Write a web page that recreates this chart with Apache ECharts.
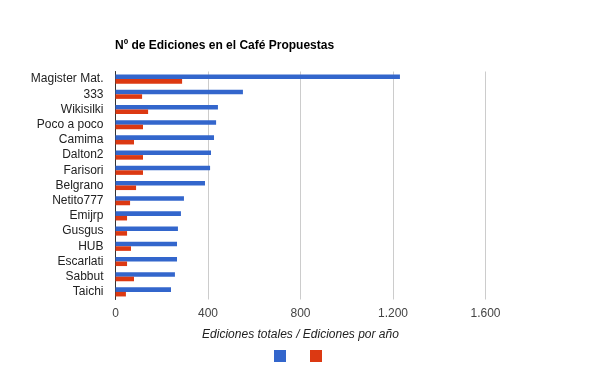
<!DOCTYPE html>
<html><head><meta charset="utf-8">
<script src="https://cdn.jsdelivr.net/npm/echarts@6/dist/echarts.min.js"></script>
<style>html,body{margin:0;padding:0;background:#fff}#c{width:600px;height:371px}</style>
</head><body><div id="c"></div>
<script>
const categories = ['Magister Mat.','333','Wikisilki','Poco a poco','Camima','Dalton2','Farisori','Belgrano','Netito777','Emijrp','Gusgus','HUB','Escarlati','Sabbut','Taichi'];
const totales = [1230,551,443,435,426,413,409,387,296,283,270,266,266,257,240];
const porAnio = [288,115,141,119,80,119,119,89,63,50,50,67,50,80,45];
const xTicks = [0,400,800,1200,1600];

const fmt = v => String(v).replace(/\B(?=(\d{3})+(?!\d))/g, '.');
const chart = echarts.init(document.getElementById('c'));
chart.setOption({
  animation: false,
  title: {
    text: 'Nº de Ediciones en el Café Propuestas',
    left: 110, top: 35,
    textStyle: {fontFamily: 'Liberation Sans, Arial', fontSize: 12, fontWeight: 'bold', color: '#000'}
  },
  legend: {
    top: 345, left: 269,
    itemWidth: 12, itemHeight: 12, itemGap: 24,
    icon: 'rect',
    formatter: () => '',
    data: ['Ediciones totales', 'Ediciones por año']
  },
  grid: {left: 115.5, right: 114.5, top: 71.5, height: 228, containLabel: false},
  xAxis: {
    type: 'value', min: xTicks[0], max: xTicks[xTicks.length - 1], interval: 400,
    name: 'Ediciones totales / Ediciones por año',
    nameLocation: 'middle', nameGap: 29,
    nameTextStyle: {fontFamily: 'Liberation Sans, Arial', fontSize: 12, fontStyle: 'italic', color: '#222'},
    axisLine: {show: false}, axisTick: {show: false},
    axisLabel: {fontFamily: 'Liberation Sans, Arial', fontSize: 12, color: '#444', margin: 8, formatter: fmt},
    splitLine: {lineStyle: {color: '#ccc', width: 1}}
  },
  yAxis: {
    type: 'category', data: categories, inverse: true,
    axisLine: {show: true, lineStyle: {color: '#333', width: 1}},
    axisTick: {show: false},
    axisLabel: {interval: 0, fontFamily: 'Liberation Sans, Arial', fontSize: 12, color: '#222', margin: 12}
  },
  series: [
    {name: 'Ediciones totales', type: 'bar', data: totales, itemStyle: {color: '#3366cc'}, barGap: '0%', barCategoryGap: '40%'},
    {name: 'Ediciones por año', type: 'bar', data: porAnio, itemStyle: {color: '#dc3912'}, barGap: '0%', barCategoryGap: '40%'}
  ]
});
</script></body></html>
